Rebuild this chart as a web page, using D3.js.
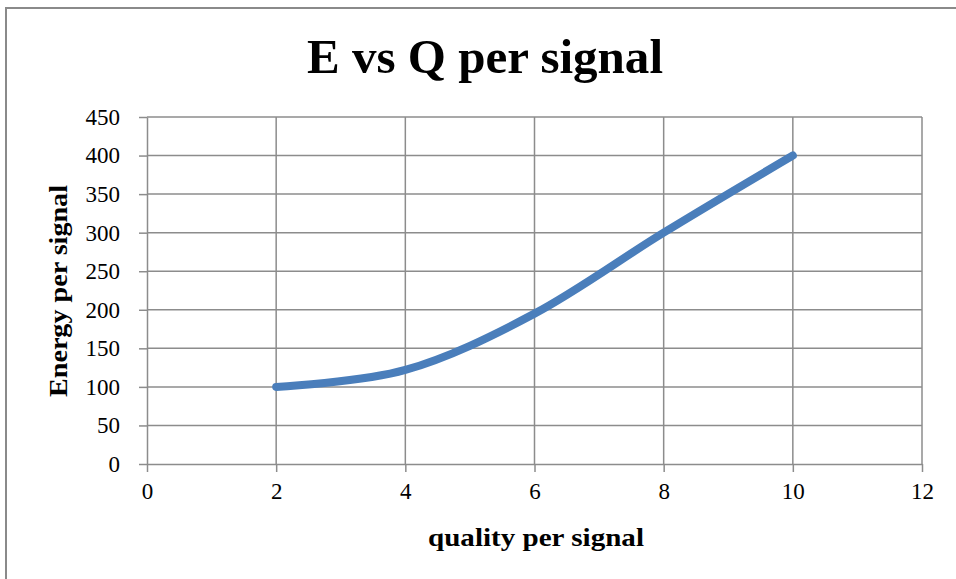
<!DOCTYPE html>
<html>
<head>
<meta charset="utf-8">
<script src="https://cdn.jsdelivr.net/npm/d3@7"></script>
<style>
  html, body { margin: 0; padding: 0; background: #fff; }
  svg { display: block; }
</style>
</head>
<body>
<script>
// Energy per signal against quality per signal
const quality = [2, 4, 6, 8, 10];
const energy = [100, 122, 195, 300, 400];
const xTicks = [0, 2, 4, 6, 8, 10, 12];
const yTicks = [0, 50, 100, 150, 200, 250, 300, 350, 400, 450];

const chartTitle = "E vs Q per signal";
const xTitle = "quality per signal";
const yTitle = "Energy per signal";

const W = 956, H = 579;
const plot = { left: 147, right: 922, top: 117, bottom: 464 };
const serif = "'Liberation Serif', 'DejaVu Serif', serif";
const gridColor = "#8c8c8c";

const svg = d3.select("body").append("svg")
  .attr("width", W).attr("height", H);

// chart frame
svg.append("rect")
  .attr("x", 6).attr("y", 8)
  .attr("width", W).attr("height", H)
  .attr("fill", "#fff")
  .attr("stroke", "#8a8a8a").attr("stroke-width", 2);

const x = d3.scaleLinear().domain([0, 12]).range([plot.left, plot.right]);
const y = d3.scaleLinear().domain([0, 450]).range([plot.bottom, plot.top]);

// gridlines
svg.append("g").selectAll("line").data(yTicks.slice(1)).join("line")
  .attr("x1", plot.left).attr("x2", plot.right)
  .attr("y1", d => y(d)).attr("y2", d => y(d))
  .attr("stroke", gridColor).attr("stroke-width", 1.5);
svg.append("g").selectAll("line").data(xTicks.slice(1)).join("line")
  .attr("y1", plot.top).attr("y2", plot.bottom)
  .attr("x1", d => x(d)).attr("x2", d => x(d))
  .attr("stroke", gridColor).attr("stroke-width", 1.5);

// axes
const xAxis = svg.append("g")
  .attr("transform", `translate(0,${plot.bottom})`)
  .call(d3.axisBottom(x).tickValues(xTicks).tickSize(8).tickSizeOuter(0).tickPadding(11));
const yAxis = svg.append("g")
  .attr("transform", `translate(${plot.left},0)`)
  .call(d3.axisLeft(y).tickValues(yTicks).tickSize(8).tickSizeOuter(0).tickPadding(19));

[xAxis, yAxis].forEach(g => {
  g.select(".domain").attr("stroke", gridColor).attr("stroke-width", 1.5);
  g.selectAll(".tick line").attr("stroke", gridColor).attr("stroke-width", 1.5);
  g.selectAll(".tick text")
    .attr("font-family", serif).attr("font-size", 23).attr("fill", "#000");
});

// series line
const line = d3.line()
  .x((d, i) => x(quality[i]))
  .y(d => y(d))
  .curve(d3.curveCardinal.tension(0));
svg.append("path")
  .datum(energy)
  .attr("d", line)
  .attr("fill", "none")
  .attr("stroke", "#4a7ebb")
  .attr("stroke-width", 8)
  .attr("stroke-linecap", "round")
  .attr("stroke-linejoin", "round");

// titles
svg.append("text")
  .attr("x", 485).attr("y", 73)
  .attr("text-anchor", "middle")
  .attr("font-family", serif).attr("font-weight", "bold").attr("font-size", 48)
  .attr("textLength", 356).attr("lengthAdjust", "spacingAndGlyphs")
  .text(chartTitle);
svg.append("text")
  .attr("x", 536).attr("y", 546)
  .attr("text-anchor", "middle")
  .attr("font-family", serif).attr("font-weight", "bold").attr("font-size", 25)
  .attr("textLength", 216).attr("lengthAdjust", "spacingAndGlyphs")
  .text(xTitle);
svg.append("text")
  .attr("transform", "translate(67,291) rotate(-90)")
  .attr("text-anchor", "middle")
  .attr("font-family", serif).attr("font-weight", "bold").attr("font-size", 25)
  .attr("textLength", 212).attr("lengthAdjust", "spacingAndGlyphs")
  .text(yTitle);
</script>
</body>
</html>
